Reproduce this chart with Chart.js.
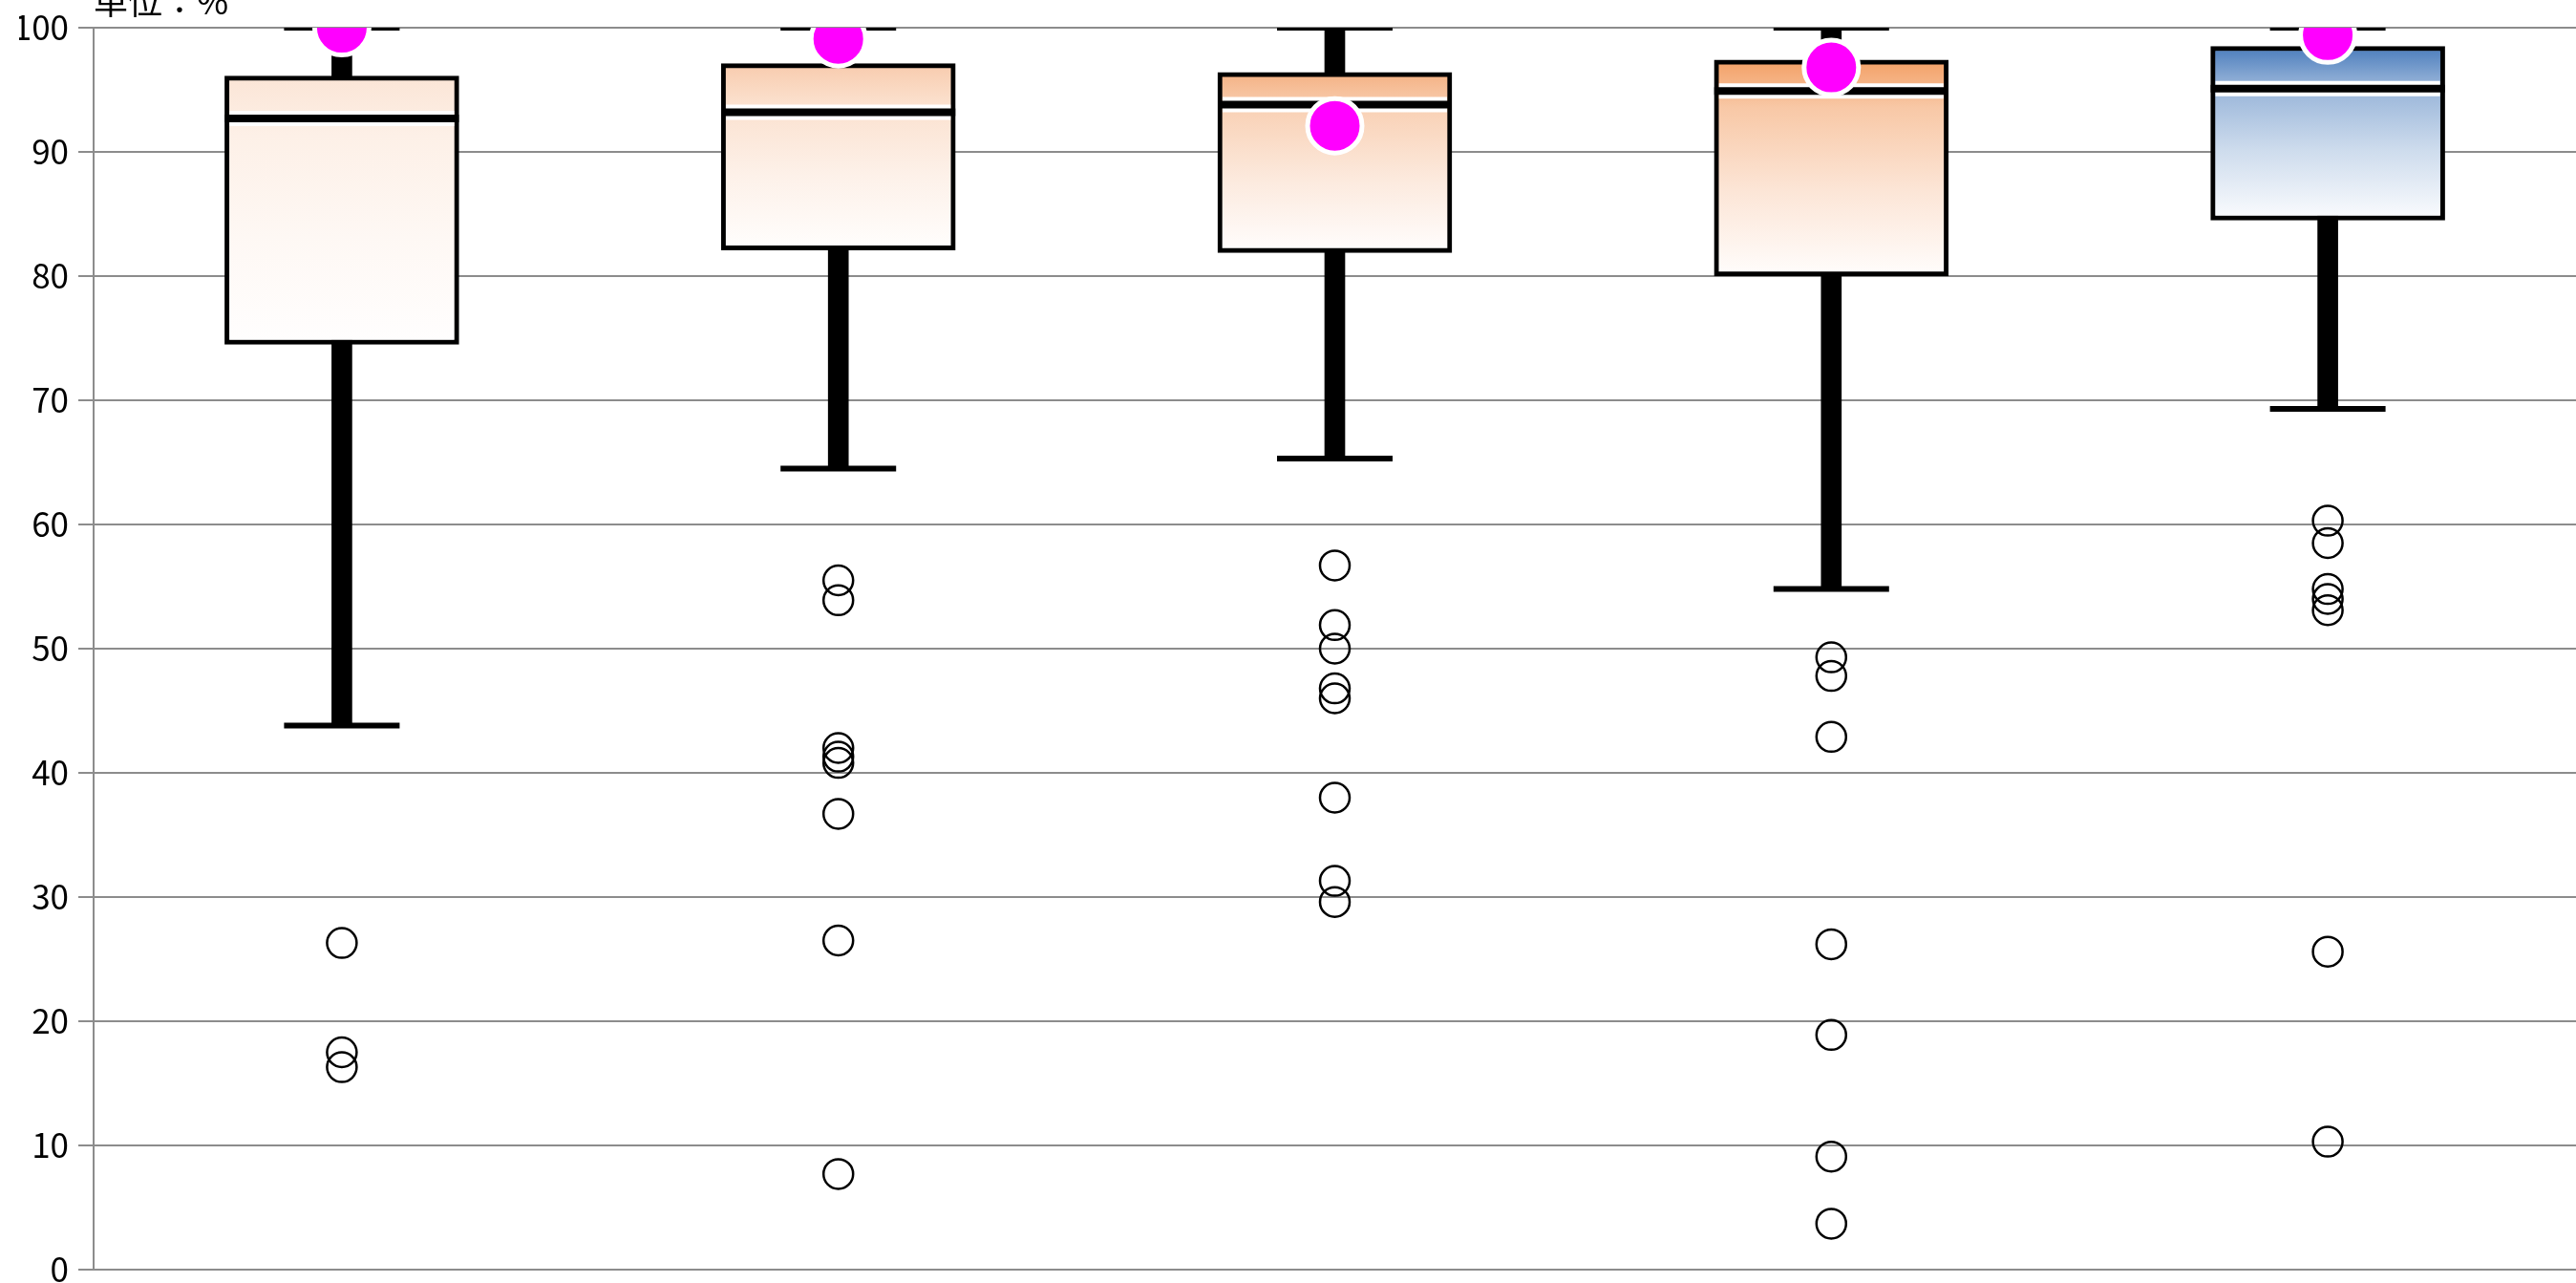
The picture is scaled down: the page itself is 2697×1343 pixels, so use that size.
<!DOCTYPE html>
<html lang="ja">
<head>
<meta charset="utf-8">
<title>箱ひげ図</title>
<script src="https://cdn.jsdelivr.net/npm/chart.js@4.4.1/dist/chart.umd.min.js"></script>
<style>
  html, body { margin: 0; padding: 0; background: #fff; }
  #wrap { position: relative; width: 2697px; height: 1343px; }
</style>
</head>
<body>
<div id="wrap"><canvas id="chart"></canvas></div>
<script>
/* 箱ひげ図 5区分 — 箱・ひげ・中央値・平均・外れ値 */
const unitText = '単位：%';
const categories = ['1', '2', '3', '4', '5'];
const whiskerMin = [43.8, 64.5, 65.3, 54.8, 69.3];
const whiskerMax = [100, 100, 100, 100, 100];
const q1 = [74.5, 82.1, 81.9, 80.0, 84.5];
const q3 = [96.1, 97.1, 96.4, 97.4, 98.5];
const median = [92.7, 93.2, 93.8, 94.9, 95.1];
const mean = [100, 99.1, 92.1, 96.8, 99.4];
const outliers = [
  [26.3, 17.5, 16.3],
  [55.5, 53.9, 42.0, 41.3, 40.8, 36.7, 26.5, 7.7],
  [56.7, 51.9, 50.0, 46.8, 46.0, 38.0, 31.3, 29.6],
  [49.3, 47.8, 42.9, 26.2, 18.9, 9.1, 3.7],
  [60.3, 58.5, 54.8, 54.0, 53.1, 25.6, 10.3],
];
const yTicks = [0, 10, 20, 30, 40, 50, 60, 70, 80, 90, 100];
const boxColors = ['#fbe5d6', '#f8cbad', '#f4b183', '#f3a066', '#4a7cbc'];

const FONT = '"Noto Sans CJK JP", "Noto Sans", sans-serif';
const GRID = '#8c8c8c';

// 白へ f の割合で寄せた色
function mix(hex, f) {
  const n = parseInt(hex.slice(1), 16);
  const m = (c) => Math.round(c + (255 - c) * f);
  return `rgb(${m(n >> 16)},${m((n >> 8) & 255)},${m(n & 255)})`;
}
// 箱の縦グラデーション（上が濃く下が白）
function boxFill(c) {
  const i = c.dataIndex, base = boxColors[i];
  const chart = c.chart;
  if (!chart.chartArea) return base;
  const y = chart.scales.y;
  const g = chart.ctx.createLinearGradient(0, y.getPixelForValue(q3[i]), 0, y.getPixelForValue(q1[i]));
  g.addColorStop(0, base);
  g.addColorStop(0.22, mix(base, 0.42));
  g.addColorStop(0.6, mix(base, 0.73));
  g.addColorStop(1, mix(base, 0.98));
  return g;
}

const pts = (vals) => vals.map((v, i) => ({ x: categories[i], y: v }));
const marks = (data, o) => Object.assign({ type: 'line', data, showLine: false, pointHoverRadius: o.pointRadius }, o);

const unitLabel = {
  id: 'unitLabel',
  afterDraw(chart) {
    const { ctx, chartArea } = chart;
    ctx.save();
    ctx.font = `36px ${FONT}`;
    ctx.fillStyle = '#000';
    ctx.textBaseline = 'alphabetic';
    ctx.fillText(unitText, chartArea.left, chartArea.top - 14);
    ctx.restore();
  },
};

new Chart(document.getElementById('chart'), {
  type: 'bar',
  data: {
    labels: categories,
    datasets: [
      // ひげ
      { data: categories.map((_, i) => [whiskerMin[i], whiskerMax[i]]), backgroundColor: '#000',
        borderWidth: 0, barThickness: 21, grouped: false, order: 6 },
      // ひげの端
      marks([...pts(whiskerMin), ...pts(whiskerMax)], { pointStyle: 'line', pointRadius: 60.5,
        pointBorderWidth: 6, pointBorderColor: '#000', order: 5 }),
      // 箱
      { data: categories.map((_, i) => [q1[i], q3[i]]), backgroundColor: boxFill, borderColor: '#000',
        borderWidth: 5, borderSkipped: false, barThickness: 245, grouped: false, order: 4 },
      // 中央値（白ふち＋黒線）
      marks(pts(median), { pointStyle: 'line', pointRadius: 117.5, pointBorderWidth: 16, pointBorderColor: '#fff', order: 3 }),
      marks(pts(median), { pointStyle: 'line', pointRadius: 122.5, pointBorderWidth: 8, pointBorderColor: '#000', order: 2 }),
      // 外れ値
      marks(outliers.flatMap((arr, i) => arr.map(v => ({ x: categories[i], y: v }))), { pointStyle: 'circle',
        pointRadius: 15.5, pointBorderWidth: 2.5, pointBorderColor: '#000', pointBackgroundColor: 'rgba(0,0,0,0)', order: 1 }),
      // 平均
      marks(pts(mean), { pointStyle: 'circle', pointRadius: 28.5, pointBorderWidth: 5,
        pointBorderColor: '#fff', pointBackgroundColor: '#ff00ff', order: 0 }),
    ],
  },
  options: {
    responsive: true, maintainAspectRatio: false, animation: false, events: [],
    layout: { autoPadding: false, padding: { left: 20, top: 29, right: 0, bottom: 14 } },
    plugins: { legend: { display: false }, tooltip: { enabled: false } },
    scales: {
      x: { display: false },
      y: {
        min: 0, max: 100,
        afterBuildTicks: (s) => { s.ticks = yTicks.map(v => ({ value: v })); },
        afterFit: (s) => { s.width = 78; },
        grid: { color: GRID, lineWidth: 2, tickLength: 16 },
        border: { display: true, color: GRID, width: 2 },
        ticks: { color: '#000', padding: 10, font: { family: FONT, size: 35, lineHeight: 0.2 } },
      },
    },
  },
  plugins: [unitLabel],
});
</script>
</body>
</html>
